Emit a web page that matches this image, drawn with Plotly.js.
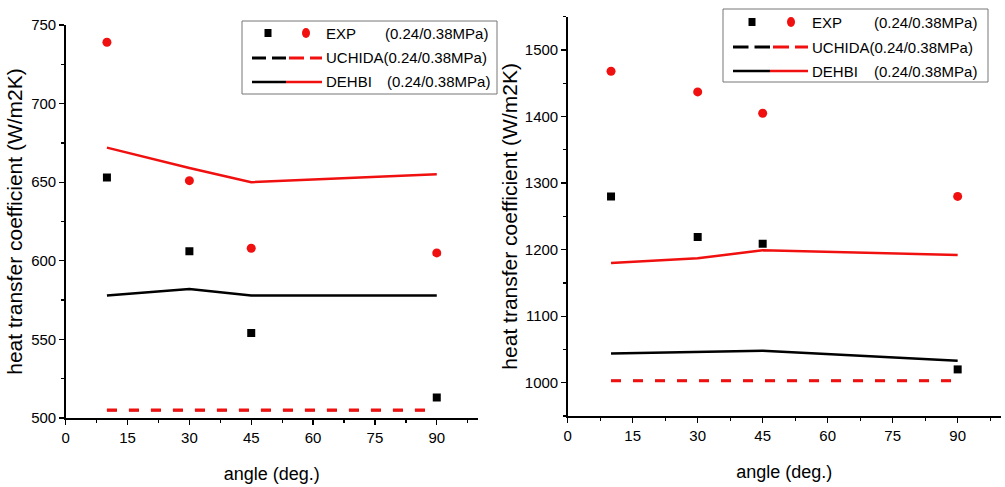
<!DOCTYPE html>
<html><head><meta charset="utf-8">
<script src="https://cdn.plot.ly/plotly-3.0.1.min.js"></script>
<style>html,body{margin:0;padding:0;background:#fff}#chart{width:1005px;height:487px}</style>
</head><body><div id="chart"></div>
<script>
// ---- data ----
const angle = [10, 30, 45, 90];
const xTicks = [0, 15, 30, 45, 60, 75, 90];
// left panel
const expA024 = [653, 606, 554, 513];
const expA038 = [739, 651, 608, 605];
const uchidaA024 = [505, 505, 505, 505];
const uchidaA038 = [505, 505, 505, 505];
const dehbiA024 = [578, 582, 578, 578];
const dehbiA038 = [672, 659, 650, 655];
// right panel
const expB024 = [1280, 1219, 1209, 1020];
const expB038 = [1468, 1437, 1405, 1280];
const uchidaB024 = [1003, 1003, 1003, 1003];
const uchidaB038 = [1003, 1003, 1003, 1003];
const dehbiB024 = [1044, 1046, 1048, 1033];
const dehbiB038 = [1180, 1187, 1199, 1192];
const legendNames = ['EXP', 'UCHIDA', 'DEHBI'];
const legendPress = '(0.24/0.38MPa)';

const W = 1005, H = 487;
const FONT = 'Liberation Sans, Arial, sans-serif';
const BLACK = '#000000', RED = '#f01010';
const px = x => x / W, py = y => 1 - y / H;

function panel(xa, ya, e024, e038, u024, u038, d024, d038) {
  const base = {x: angle, xaxis: xa, yaxis: ya, showlegend: false, hoverinfo: 'skip'};
  return [
    Object.assign({}, base, {y: u024, mode: 'lines', line: {color: BLACK, width: 2, dash: '10px,12px'}}),
    Object.assign({}, base, {y: u038, mode: 'lines', line: {color: RED, width: 3.2, dash: '10px,12px'}}),
    Object.assign({}, base, {y: d024, mode: 'lines', line: {color: BLACK, width: 2.5}}),
    Object.assign({}, base, {y: d038, mode: 'lines', line: {color: RED, width: 2.5}}),
    Object.assign({}, base, {y: e024, mode: 'markers', marker: {symbol: 'square', size: 8, color: BLACK}}),
    Object.assign({}, base, {y: e038, mode: 'markers', marker: {symbol: 'circle', size: 9, color: RED}})
  ];
}

const data = [].concat(
  panel('x', 'y', expA024, expA038, uchidaA024, uchidaA038, dehbiA024, dehbiA038),
  panel('x2', 'y2', expB024, expB038, uchidaB024, uchidaB038, dehbiB024, dehbiB038)
);

function xaxis(domain, anchor) {
  return {domain: domain, anchor: anchor, range: [0, 100], tickvals: xTicks,
    ticks: 'outside', ticklen: 5, tickwidth: 1.3, tickcolor: BLACK,
    minor: {dtick: 7.5, tick0: 0, ticks: 'outside', ticklen: 3, tickwidth: 1.3, tickcolor: BLACK},
    showline: true, linecolor: BLACK, linewidth: 1.5, showgrid: false, zeroline: false,
    tickfont: {family: FONT, size: 15, color: BLACK},
    title: {text: 'angle (deg.)', font: {family: FONT, size: 18, color: BLACK}, standoff: 23}};
}
function yaxis(domain, anchor, range, dtick, standoff) {
  return {domain: domain, anchor: anchor, range: range, dtick: dtick,
    ticks: 'outside', ticklen: 5, tickwidth: 1.3, tickcolor: BLACK,
    minor: {dtick: dtick / 2, ticks: 'outside', ticklen: 3, tickwidth: 1.3, tickcolor: BLACK},
    showline: true, linecolor: BLACK, linewidth: 1.5, showgrid: false, zeroline: false,
    tickfont: {family: FONT, size: 15, color: BLACK},
    title: {text: 'heat transfer coefficient (W/m2K)', font: {family: FONT, size: 21, color: BLACK}, standoff: standoff}};
}

// hand-built legends (two symbols per row, as in the original)
const shapes = [], annotations = [];
function legend(bx0, by0, bx1, by1, rows, sqX, ciX, l0, lm, l1, textX, pressX1, pressX3) {
  shapes.push({type: 'rect', xref: 'paper', yref: 'paper', x0: px(bx0), x1: px(bx1), y0: py(by1), y1: py(by0),
    line: {color: '#777', width: 1}, fillcolor: 'rgba(0,0,0,0)'});
  shapes.push({type: 'rect', xref: 'paper', yref: 'paper', x0: px(sqX - 3.5), x1: px(sqX + 3.5), y0: py(rows[0] + 4), y1: py(rows[0] - 4),
    line: {width: 0}, fillcolor: BLACK});
  shapes.push({type: 'circle', xref: 'paper', yref: 'paper', x0: px(ciX - 4), x1: px(ciX + 4), y0: py(rows[0] + 5), y1: py(rows[0] - 5),
    line: {width: 0}, fillcolor: RED});
  const half = (lm - l0) / 2 - 3;
  shapes.push({type: 'line', xref: 'paper', yref: 'paper', x0: px(l0), x1: px(l0 + half), y0: py(rows[1]), y1: py(rows[1]), line: {color: BLACK, width: 3}});
  shapes.push({type: 'line', xref: 'paper', yref: 'paper', x0: px(lm - half), x1: px(lm), y0: py(rows[1]), y1: py(rows[1]), line: {color: BLACK, width: 3}});
  const half2 = (l1 - lm) / 2 - 3;
  shapes.push({type: 'line', xref: 'paper', yref: 'paper', x0: px(lm + 3), x1: px(lm + 3 + half2), y0: py(rows[1]), y1: py(rows[1]), line: {color: RED, width: 3}});
  shapes.push({type: 'line', xref: 'paper', yref: 'paper', x0: px(l1 - half2 + 3), x1: px(l1), y0: py(rows[1]), y1: py(rows[1]), line: {color: RED, width: 3}});
  shapes.push({type: 'line', xref: 'paper', yref: 'paper', x0: px(l0), x1: px(lm), y0: py(rows[2]), y1: py(rows[2]), line: {color: BLACK, width: 2.5}});
  shapes.push({type: 'line', xref: 'paper', yref: 'paper', x0: px(lm), x1: px(l1), y0: py(rows[2]), y1: py(rows[2]), line: {color: RED, width: 2.5}});
  const f = {family: FONT, size: 15, color: BLACK};
  const a = (x, y, t) => annotations.push({xref: 'paper', yref: 'paper', x: px(x), y: py(y), text: t,
    showarrow: false, xanchor: 'left', yanchor: 'middle', font: f});
  a(textX, rows[0], legendNames[0]);
  a(pressX1, rows[0], legendPress);
  a(textX, rows[1], legendNames[1] + legendPress);
  a(textX, rows[2], legendNames[2]);
  a(pressX3, rows[2], legendPress);
}
legend(242, 21, 497, 94, [33, 58, 82], 268, 306, 252, 286, 322, 324, 383, 385);
legend(723, 9, 988, 82, [22, 47, 71], 752, 791, 733, 770, 808, 810, 872, 872);

const layout = {
  width: W, height: H, autosize: false,
  margin: {l: 0, r: 0, t: 0, b: 0, pad: 0},
  paper_bgcolor: '#ffffff', plot_bgcolor: '#ffffff',
  showlegend: false,
  xaxis: xaxis([px(65.7), px(478)], 'y'),
  yaxis: yaxis([py(418), py(25)], 'x', [500, 750], 50, 3),
  xaxis2: xaxis([px(567.7), px(1001)], 'y2'),
  yaxis2: yaxis([py(416), py(16.7)], 'x2', [950, 1550], 100, 1),
  shapes: shapes, annotations: annotations
};
Plotly.newPlot('chart', data, layout, {staticPlot: true, displayModeBar: false});
</script></body></html>
